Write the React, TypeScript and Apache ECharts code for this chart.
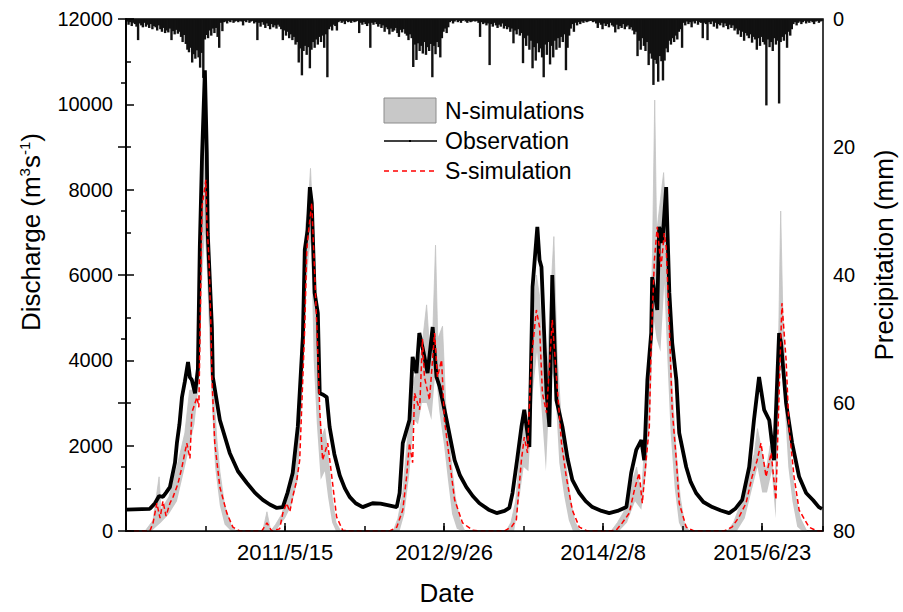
import React, { useEffect, useRef } from 'react';
import * as echarts from 'echarts';

// x values: days since 2009-12-31 (day 1 = 2010-01-01)
const START_UTC = Date.UTC(2009, 11, 31);
const DAY_MS = 86400000;
const X_MAX = 2191; // 2015-12-31
const TICK_DAYS = [500, 1000, 1500, 2000];

// Observed discharge (m3/s): [day, value]
const observation: number[][] = [
  [0, 500], [75, 520], [91, 650], [104, 820], [116, 800], [126, 900], [138, 1030], [154, 1600], [160, 2060], [168, 2500], [176, 3140], [185, 3500], [195, 3960], [201, 3600], [207, 3540], [217, 3230], [226, 3800],
  [232, 6650], [239, 8770], [248, 10800], [254, 8860], [257, 6980], [270, 4780], [273, 3610], [295, 2600], [326, 1830], [352, 1400], [380, 1125], [405, 900], [430, 730], [452, 620], [474, 540], [493, 560],
  [508, 900], [524, 1360], [540, 2440], [556, 4550], [562, 6590], [571, 7060], [578, 8060], [584, 7690], [593, 5580], [603, 5110], [609, 3230], [618, 3200], [631, 3140], [640, 2440], [655, 1800], [672, 1300], [688, 1000], [703, 800], [722, 650], [744, 560],
  [775, 650], [800, 640], [826, 600], [851, 560], [860, 890], [870, 2060], [891, 2600], [901, 4080], [913, 3700], [922, 4640], [932, 4310], [948, 3700], [964, 4780], [976, 3610], [986, 3380], [1008, 2600], [1033, 1660], [1050, 1300], [1070, 1030], [1090, 820], [1111, 650], [1140, 500], [1165, 420],
  [1190, 470], [1205, 540], [1215, 890], [1230, 1700], [1243, 2440], [1252, 2840], [1268, 1970], [1278, 5720], [1293, 7130], [1300, 6350], [1306, 6190], [1322, 3230], [1331, 2440], [1340, 6000], [1353, 3070], [1372, 2440], [1388, 1700], [1403, 1200], [1425, 890], [1445, 700], [1466, 560],
  [1495, 470], [1519, 420], [1545, 470], [1573, 560], [1588, 1360], [1604, 1900], [1620, 2130], [1629, 1660], [1639, 3540], [1651, 4640], [1654, 5950], [1670, 5180], [1676, 7130], [1686, 6750], [1698, 8060], [1708, 5580], [1717, 4410], [1730, 3540], [1739, 2300], [1761, 1500], [1775, 1150], [1792, 890], [1815, 680], [1843, 560],
  [1870, 480], [1896, 420], [1915, 520], [1937, 730], [1959, 1500], [1974, 2600], [1990, 3610], [2006, 2840], [2022, 2600], [2037, 1660], [2053, 4640], [2059, 4410], [2075, 3000], [2094, 2060], [2116, 1270], [2138, 890], [2160, 720], [2178, 560], [2188, 520],
];

// S-simulation discharge (m3/s): [day, value]
const sSimulation: number[][] = [
  [0, 0], [75, 0], [85, 190], [97, 650], [107, 300], [116, 700], [126, 350], [138, 650], [148, 800], [163, 1100], [176, 1500], [191, 2060], [201, 1700], [207, 2770], [223, 3140], [229, 2900],
  [239, 7600], [251, 8230], [254, 7290], [261, 6350], [267, 4780], [270, 3610], [279, 2060], [295, 1030], [317, 420], [336, 90], [358, 0],
  [427, 0], [443, 190], [458, 0], [483, 50], [493, 420], [505, 650], [515, 450], [524, 800], [537, 1200], [546, 1660], [562, 4780], [568, 6520], [571, 6820], [578, 7300], [584, 7690], [587, 7130], [600, 4780], [609, 2840], [618, 1660], [634, 2060], [647, 1270], [662, 330], [681, 20], [703, 0],
  [829, 0], [851, 90], [870, 490], [882, 1270], [891, 2060], [901, 1600], [907, 3230], [923, 2840], [932, 4500], [938, 3610], [954, 3070], [970, 4640], [979, 3610], [992, 4010], [1001, 2600], [1017, 1660], [1033, 730], [1058, 190], [1089, 20], [1111, 0],
  [1190, 0], [1212, 100], [1227, 260], [1243, 1660], [1252, 2200], [1262, 1830], [1274, 4010], [1290, 5180], [1300, 4780], [1309, 3230], [1322, 2770], [1340, 4950], [1353, 3610], [1369, 2060], [1384, 1270], [1403, 490], [1425, 90], [1450, 0],
  [1519, 0], [1541, 20], [1560, 190], [1582, 420], [1598, 960], [1613, 1360], [1623, 650], [1635, 1660], [1645, 2440], [1651, 4410], [1661, 6350], [1670, 7130], [1682, 6190], [1692, 6980], [1698, 6660], [1708, 4780], [1717, 2840], [1730, 1660], [1739, 650], [1761, 90], [1786, 0],
  [1880, 0], [1905, 90], [1927, 330], [1949, 650], [1968, 1270], [1984, 1660], [1996, 2060], [2012, 1270], [2028, 1830], [2043, 730], [2053, 3230], [2062, 5340], [2075, 4010], [2084, 2440], [2100, 1270], [2116, 490], [2147, 90], [2172, 0], [2188, 0],
];

// N-simulations envelope, upper bound (m3/s)
const nSimUpper: number[][] = [
  [0, 0], [60, 0], [85, 250], [104, 1270], [110, 500], [135, 800], [160, 1500], [185, 2300], [200, 3300], [215, 3300], [225, 3800], [232, 7500], [240, 9500], [248, 10000], [254, 9000], [258, 7500], [265, 5500], [272, 3800], [285, 2200], [295, 1400], [310, 600], [330, 150], [345, 0],
  [430, 0], [443, 450], [455, 0], [470, 150], [490, 400], [505, 800], [520, 1000], [540, 2200], [556, 5500], [565, 7200], [572, 7500], [580, 8500], [586, 7500], [595, 5500], [605, 3200], [615, 2200], [625, 2400], [635, 1800], [648, 800], [660, 200], [675, 0],
  [840, 0], [855, 300], [870, 900], [885, 2200], [900, 3400], [915, 3800], [930, 4300], [945, 5300], [955, 4200], [965, 4800], [973, 6700], [980, 4500], [995, 4800], [1005, 3000], [1020, 1800], [1035, 800], [1050, 250], [1065, 0],
  [1195, 0], [1210, 200], [1225, 700], [1240, 2000], [1252, 2600], [1262, 2400], [1275, 4500], [1290, 6000], [1300, 5500], [1310, 4000], [1322, 3600], [1335, 5500], [1345, 6900], [1355, 4200], [1368, 2600], [1382, 1600], [1398, 700], [1412, 200], [1428, 0],
  [1525, 0], [1545, 200], [1565, 450], [1585, 1000], [1605, 1500], [1620, 800], [1632, 2200], [1645, 3500], [1655, 6500], [1662, 10100], [1668, 7000], [1676, 7500], [1690, 8400], [1698, 7200], [1708, 5000], [1718, 3200], [1730, 1800], [1742, 800], [1755, 200], [1770, 0],
  [1890, 0], [1910, 200], [1925, 500], [1945, 900], [1960, 1500], [1975, 1800], [1985, 2400], [2000, 1800], [2012, 1400], [2025, 2000], [2040, 1000], [2050, 3800], [2058, 7500], [2065, 5000], [2075, 3200], [2088, 1800], [2102, 900], [2120, 300], [2140, 0], [2191, 0],
];

// N-simulations envelope, lower bound (m3/s)
const nSimLower: number[][] = [
  [0, 0], [80, 0], [110, 200], [135, 400], [160, 700], [185, 1500], [200, 2000], [215, 2500], [230, 3500], [240, 6000], [248, 7000], [255, 6000], [262, 4500], [270, 3000], [280, 1500], [295, 600], [310, 150], [330, 0],
  [470, 0], [500, 300], [520, 600], [540, 1200], [556, 3500], [565, 5500], [575, 6500], [582, 6800], [590, 4000], [600, 2500], [612, 1200], [625, 1400], [635, 800], [648, 200], [660, 0],
  [860, 0], [875, 400], [890, 1300], [905, 2600], [918, 2500], [930, 3000], [945, 3000], [960, 2600], [973, 3800], [985, 2800], [1000, 2000], [1012, 1200], [1025, 400], [1040, 50], [1055, 0],
  [1220, 0], [1235, 700], [1250, 1500], [1265, 1400], [1278, 3200], [1292, 4200], [1305, 3000], [1320, 1400], [1335, 3800], [1348, 3500], [1362, 1600], [1378, 800], [1392, 250], [1405, 0],
  [1550, 0], [1575, 200], [1600, 700], [1620, 500], [1635, 1400], [1648, 2800], [1658, 5000], [1668, 4500], [1680, 4200], [1692, 5800], [1702, 4000], [1712, 2300], [1725, 1000], [1738, 200], [1750, 0],
  [1920, 0], [1945, 300], [1965, 900], [1985, 1500], [2000, 900], [2015, 900], [2030, 1400], [2042, 300], [2052, 2800], [2060, 4500], [2070, 3000], [2082, 1500], [2095, 700], [2110, 100], [2125, 0], [2191, 0],
];

// Precipitation (mm), one value per 5-day step starting 2010-01-01
const precip2010 = [0.4, 0.9, 0.5, 1.1, 0.6, 0.8, 1.2, 3.3, 0.7, 1.0, 1.3, 0.6, 1.2, 0.9, 1.4, 0.8, 1.6, 1.1, 1.3, 1.8, 1.0, 1.6, 2.0, 1.4, 2.2, 1.8, 2.1, 1.5, 3.3, 1.9, 2.4, 1.7, 2.3, 2.0, 2.8, 3.6, 2.5, 3.9, 4.8, 5.2, 4.5, 6.8, 5.5, 6.2, 4.9, 6.0, 7.6, 5.3, 9.2, 3.2, 2.5, 3.0, 1.8, 2.6, 1.5, 2.2, 1.4, 2.8, 4.5, 0.6, 1.9, 0.5, 0.4, 0.7, 0.3, 0.5, 0.2, 0.6, 0.4, 0.3, 0.5, 0.3, 0.4];
const precip2011 = [1.0, 0.3, 0.5, 0.2, 0.6, 0.4, 0.3, 0.7, 0.5, 3.3, 0.6, 1.2, 0.5, 0.9, 1.4, 0.7, 1.1, 1.6, 0.8, 1.3, 1.0, 1.5, 0.9, 1.2, 1.6, 3.3, 1.8, 2.6, 2.0, 3.0, 2.4, 3.3, 2.8, 4.0, 3.6, 6.8, 4.6, 8.8, 5.0, 4.2, 5.6, 4.4, 7.7, 4.8, 3.6, 4.5, 3.2, 4.0, 2.8, 3.6, 2.6, 4.5, 2.4, 9.1, 1.6, 1.2, 1.8, 0.9, 1.1, 1.8, 0.5, 0.3, 0.6, 0.4, 0.8, 0.3, 0.5, 0.4, 0.6, 0.3, 0.5, 0.4, 0.3];
const precip2012 = [2.2, 0.6, 0.9, 0.5, 0.8, 1.1, 0.7, 4.5, 0.6, 0.9, 0.5, 0.8, 1.2, 0.8, 1.4, 1.0, 2.0, 1.3, 1.6, 2.4, 1.5, 2.0, 1.8, 1.4, 2.2, 2.8, 1.7, 2.1, 1.6, 2.3, 2.6, 3.3, 2.4, 3.0, 7.5, 4.0, 6.4, 3.8, 5.0, 4.2, 5.4, 3.6, 5.6, 4.4, 5.0, 3.9, 9.1, 4.2, 5.5, 3.6, 4.4, 6.0, 3.0, 2.0, 1.5, 2.2, 1.3, 0.5, 0.3, 0.7, 0.4, 0.2, 0.5, 0.3, 0.6, 0.3, 0.2, 0.4, 0.6, 0.3, 0.5, 0.4, 0.3];
const precip2013 = [0.4, 0.3, 0.6, 2.8, 0.5, 0.8, 0.6, 1.0, 0.7, 7.2, 0.8, 1.2, 0.6, 1.0, 1.4, 0.9, 1.2, 0.7, 1.5, 1.1, 1.6, 1.3, 2.0, 1.5, 3.8, 1.8, 2.4, 1.6, 2.6, 2.2, 6.9, 3.0, 4.2, 2.6, 4.8, 3.4, 7.7, 4.4, 6.5, 3.8, 5.2, 4.6, 6.0, 9.1, 4.0, 5.6, 3.6, 7.1, 4.2, 6.0, 3.4, 4.8, 3.0, 4.5, 2.8, 3.6, 2.4, 8.0, 4.5, 2.6, 1.5, 0.8, 2.0, 0.6, 1.0, 0.5, 0.8, 0.4, 0.6, 0.3, 0.5, 0.4, 0.3];
const precip2014 = [0.3, 0.5, 0.4, 0.7, 1.4, 0.6, 0.9, 1.6, 0.7, 1.1, 0.8, 1.3, 0.6, 1.0, 1.2, 2.1, 0.9, 1.6, 1.1, 1.4, 0.8, 1.6, 1.2, 1.0, 1.6, 1.3, 1.8, 2.4, 2.0, 5.8, 3.4, 4.8, 3.0, 4.2, 5.0, 3.6, 7.2, 5.4, 6.2, 10.3, 6.4, 7.0, 9.8, 5.8, 6.6, 9.6, 6.5, 4.6, 5.2, 3.4, 4.0, 3.0, 3.6, 2.6, 3.2, 2.0, 1.6, 4.5, 0.6, 1.0, 0.4, 0.8, 0.5, 1.3, 0.4, 0.7, 0.3, 0.9, 0.5, 0.6, 3.0, 0.6, 0.8];
const precip2015 = [3.3, 0.5, 0.8, 0.4, 1.2, 0.6, 1.5, 0.8, 1.0, 0.6, 1.3, 0.7, 1.1, 1.6, 0.9, 1.4, 1.0, 1.8, 1.5, 2.4, 1.8, 2.8, 2.0, 3.4, 2.2, 2.6, 3.0, 2.4, 3.7, 2.8, 3.2, 4.8, 3.0, 4.2, 2.8, 3.6, 4.0, 13.5, 3.2, 4.4, 3.6, 5.0, 3.0, 4.0, 3.4, 13.2, 3.6, 2.8, 3.4, 2.4, 4.5, 2.0, 2.6, 1.6, 0.8, 0.5, 1.0, 0.6, 0.4, 0.8, 0.5, 0.3, 0.7, 0.4, 0.6, 0.3, 0.5, 0.8, 0.4, 0.3, 0.6, 0.4, 0.3];
const PRECIP_STEP = 5;

const dayLabel = (d: number) => {
  const dt = new Date(START_UTC + d * DAY_MS);
  return `${dt.getUTCFullYear()}/${dt.getUTCMonth() + 1}/${dt.getUTCDate()}`;
};

const FONT = '"Liberation Sans", Arial, sans-serif';

export default function App() {
  const ref = useRef<HTMLDivElement>(null);
  useEffect(() => {
    if (!ref.current) return;
    const chart = echarts.init(ref.current, undefined, { renderer: 'svg' });
    const precipAll = [...precip2010, ...precip2011, ...precip2012, ...precip2013, ...precip2014, ...precip2015];
    const precipData = precipAll.map((v, i) => [1 + PRECIP_STEP * i + 2, v]);
    const axisLineStyle = { color: '#000', width: 1.5 };
    chart.setOption({
      animation: false,
      backgroundColor: '#fff',
      textStyle: { fontFamily: FONT },
      grid: { left: 126, right: 80, top: 19, bottom: 81, show: true, borderColor: '#000', borderWidth: 1.5, backgroundColor: 'transparent' },
      xAxis: [
        {
          type: 'value', min: 0, max: X_MAX, interval: 500, z: 10,
          axisLine: { show: true, onZero: false, lineStyle: axisLineStyle },
          axisTick: { show: true, inside: true, length: 8, lineStyle: { color: '#000', width: 1.5 } },
          axisLabel: {
            color: '#000', fontSize: 22, fontFamily: FONT, margin: 10, showMaxLabel: false,
            formatter: (v: number) => (TICK_DAYS.includes(v) ? dayLabel(v) : ''),
          },
          splitLine: { show: false },
        },
        {
          type: 'value', min: 0, max: X_MAX, interval: 250, position: 'bottom', z: 10,
          axisLine: { show: false },
          axisTick: { show: true, inside: true, length: 5, lineStyle: { color: '#000', width: 1.5 } },
          axisLabel: { show: false },
          splitLine: { show: false },
        },
      ],
      yAxis: [
        {
          type: 'value', min: 0, max: 12000, interval: 2000, z: 10,
          axisLine: { show: true, lineStyle: axisLineStyle },
          axisTick: { show: true, inside: true, length: 8, lineStyle: { color: '#000', width: 1.5 } },
          minorTick: { show: true, splitNumber: 2, length: 5, lineStyle: { color: '#000', width: 1.5 } },
          axisLabel: { color: '#000', fontSize: 20, fontFamily: FONT, margin: 13, formatter: (v: number) => String(v) },
          splitLine: { show: false },
          minorSplitLine: { show: false },
        },
        {
          type: 'value', min: 0, max: 80, interval: 20, inverse: true, position: 'right', z: 10,
          axisLine: { show: true, lineStyle: axisLineStyle },
          axisTick: { show: true, inside: true, length: 8, lineStyle: { color: '#000', width: 1.5 } },
          minorTick: { show: true, splitNumber: 2, length: 5, lineStyle: { color: '#000', width: 1.5 } },
          axisLabel: { color: '#000', fontSize: 20, fontFamily: FONT, margin: 10, formatter: (v: number) => String(v) },
          splitLine: { show: false },
          minorSplitLine: { show: false },
        },
      ],
      series: [
        {
          name: 'Precipitation', type: 'bar', xAxisIndex: 0, yAxisIndex: 1, data: precipData,
          barWidth: 2.4, itemStyle: { color: '#111' }, z: 1, silent: true,
        },
        {
          name: 'N-simulations', type: 'line', xAxisIndex: 0, yAxisIndex: 0, data: nSimUpper,
          symbol: 'none', lineStyle: { width: 0.8, color: '#c4c4c4' }, areaStyle: { color: '#c8c8c8', opacity: 1 }, z: 2,
        },
        {
          name: 'N-lower', type: 'line', xAxisIndex: 0, yAxisIndex: 0, data: nSimLower,
          symbol: 'none', lineStyle: { width: 0 }, areaStyle: { color: '#ffffff', opacity: 1 }, z: 3,
        },
        {
          name: 'Observation', type: 'line', xAxisIndex: 0, yAxisIndex: 0, data: observation,
          symbol: 'none', lineStyle: { width: 3.8, color: '#000' }, z: 4,
        },
        {
          name: 'S-simulation', type: 'line', xAxisIndex: 0, yAxisIndex: 0, data: sSimulation,
          symbol: 'none', lineStyle: { width: 1.5, color: '#ff0000', type: [5, 3] }, z: 5,
        },
      ],
      graphic: [
        { type: 'rect', shape: { x: 384, y: 98, width: 52, height: 25 }, style: { fill: '#c8c8c8', stroke: '#8c8c8c', lineWidth: 1 }, z: 20 },
        { type: 'text', x: 445, y: 111, style: { text: 'N-simulations', fontSize: 23, fontFamily: FONT, fill: '#000', verticalAlign: 'middle', align: 'left' }, z: 20 },
        { type: 'line', shape: { x1: 384, y1: 141, x2: 437, y2: 141 }, style: { stroke: '#000', lineWidth: 1.5 }, z: 20 },
        { type: 'rect', shape: { x: 409, y: 140, width: 2, height: 2 }, style: { fill: '#000' }, z: 20 },
        { type: 'text', x: 445, y: 141, style: { text: 'Observation', fontSize: 23, fontFamily: FONT, fill: '#000', verticalAlign: 'middle', align: 'left' }, z: 20 },
        { type: 'line', shape: { x1: 384, y1: 171, x2: 437, y2: 171 }, style: { stroke: '#ff0000', lineWidth: 1.5, lineDash: [5, 4] }, z: 20 },
        { type: 'text', x: 445, y: 171, style: { text: 'S-simulation', fontSize: 23, fontFamily: FONT, fill: '#000', verticalAlign: 'middle', align: 'left' }, z: 20 },
        {
          type: 'text', x: 31, y: 232, rotation: Math.PI / 2,
          style: {
            text: 'Discharge (m{sup|3}s{sup|-1})', fontSize: 26, fontFamily: FONT, fill: '#000', align: 'center', verticalAlign: 'middle',
            rich: { sup: { fontSize: 15, fontFamily: FONT, fill: '#000', padding: [0, 0, 14, 0] } },
          },
          z: 20,
        },
        {
          type: 'text', x: 884, y: 255, rotation: Math.PI / 2,
          style: { text: 'Precipitation (mm)', fontSize: 26, fontFamily: FONT, fill: '#000', align: 'center', verticalAlign: 'middle' },
          z: 20,
        },
        { type: 'text', x: 447, y: 593, style: { text: 'Date', fontSize: 26, fontFamily: FONT, fill: '#000', align: 'center', verticalAlign: 'middle' }, z: 20 },
      ],
    });
    return () => chart.dispose();
  }, []);
  return <div ref={ref} style={{ width: 903, height: 612, position: 'absolute', left: 0, top: 0 }} />;
}
